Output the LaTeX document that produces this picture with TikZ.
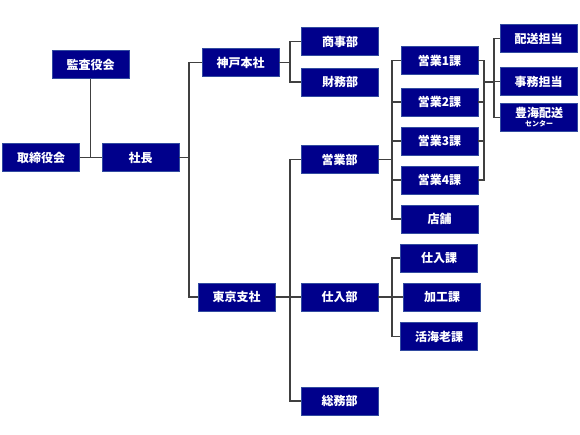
\documentclass[tikz,border=0pt]{standalone}
\usepackage{fontspec}
\usepackage{tikz}
\newfontfamily\jp{Noto Sans CJK JP}
\definecolor{boxblue}{RGB}{0,0,139}
\definecolor{boxedge}{RGB}{50,75,160}
\definecolor{linegray}{RGB}{64,64,64}

\begin{document}
\begin{tikzpicture}[x=1pt,y=-1pt,
  unit/.style={draw=boxedge,fill=boxblue,text=white,line width=0.8pt,minimum width=77pt,minimum height=28pt,inner sep=0pt,font=\jp\bfseries\fontsize{12}{12}\selectfont},
  link/.style={draw=linegray,line width=1.5pt}]
\useasboundingbox (0,0) rectangle (580,435);

\node[unit] (kansa) at (90.5,64.5) {監査役会};
\node[unit] (torishimari) at (41,157.5) {取締役会};
\node[unit] (shacho) at (140.5,157.5) {社長};
\node[unit] (kobe) at (240.5,62.5) {神戸本社};
\node[unit] (shoji) at (340,41.5) {商事部};
\node[unit] (zaimu) at (340,82) {財務部};
\node[unit] (eigyo) at (339.5,159.5) {営業部};
\node[unit] (tokyo) at (236.5,297) {東京支社};
\node[unit] (shiire) at (339.5,297) {仕入部};
\node[unit] (somu) at (339.5,401) {総務部};
\node[unit] (ka1) at (439.5,60.5) {営業1課};
\node[unit] (ka2) at (439.5,102) {営業2課};
\node[unit] (ka3) at (439.5,141) {営業3課};
\node[unit] (ka4) at (439.5,180) {営業4課};
\node[unit] (tenpo) at (439.5,219) {店舗};
\node[unit] (haiso) at (538.5,38.5) {配送担当};
\node[unit] (jimu) at (538.5,81.5) {事務担当};
\node[unit,align=center] (toyomi) at (539,117.5) {豊海配送\\[-3pt]{\fontsize{7}{7}\selectfont センター}};
\node[unit] (shiireka) at (439,258) {仕入課};
\node[unit] (kako) at (442,297) {加工課};
\node[unit] (ebi) at (439,336.5) {活海老課};

\coordinate (j1) at (189,157.5);
\coordinate (j2) at (290,62.5);
\coordinate (j3) at (290,297);
\coordinate (j4) at (392,159.5);
\coordinate (j5) at (484,82);
\coordinate (j6) at (494,82);
\coordinate (j7) at (392,297);

\draw[link] (kansa) -- (kansa |- shacho);
\draw[link] (torishimari) -- (shacho);
\draw[link] (shacho) -- (j1);
\draw[link] (kobe.west) -| (j1) |- (tokyo.west);
\draw[link] (kobe) -- (j2);
\draw[link] (shoji.west) -| (j2) |- (zaimu.west);
\draw[link] (tokyo) -- (shiire);
\draw[link] (eigyo.west) -| (j3) |- (somu.west);
\draw[link] (eigyo) -- (j4);
\draw[link] (ka1.west) -| (j4) |- (tenpo.west);
\draw[link] (ka2.west) -- (ka2.west -| j4);
\draw[link] (ka3.west) -- (ka3.west -| j4);
\draw[link] (ka4.west) -- (ka4.west -| j4);
\draw[link] (ka1.east) -| (j5) |- (ka4.east);
\draw[link] (ka2.east) -- (ka2.east -| j5);
\draw[link] (ka3.east) -- (ka3.east -| j5);
\draw[link] (j5) -- (j6);
\draw[link] (haiso.west) -| (j6) |- (toyomi.west);
\draw[link] (jimu.west) -- (jimu.west -| j6);
\draw[link] (shiire) -- (kako);
\draw[link] (shiireka.west) -| (j7) |- (ebi.west);
\end{tikzpicture}
\end{document}
